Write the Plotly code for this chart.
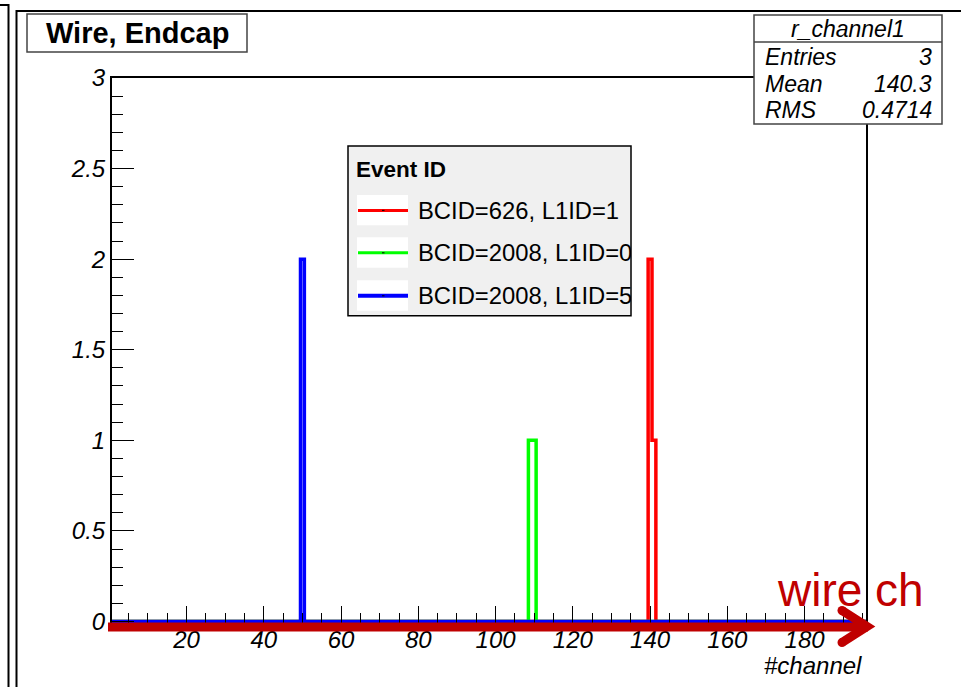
import numpy as np
import plotly.graph_objects as go

# ---------------- data ----------------
series_names = ["BCID=626, L1ID=1", "BCID=2008, L1ID=0", "BCID=2008, L1ID=5"]
series_colors = ["#ff0000", "#00ff00", "#0000ff"]
red_channels = [140, 141]
red_counts = [2, 1]
green_channels = [109, 110]
green_counts = [1, 1]
blue_channels = [50]
blue_counts = [2]

n_channels = 196
x_ticks = [20, 40, 60, 80, 100, 120, 140, 160, 180]
title_text = "Wire, Endcap"
stats_name = "r_channel1"
stats_labels = ["Entries", "Mean", "RMS"]
stats_values = ["3", "140.3", "0.4714"]
legend_title = "Event ID"
x_title = "#channel"
arrow_label = "wire ch"

# ---------------- geometry ----------------
W, H = 961, 687
L, R, T, B = 112, 866, 78, 623.5
FONT = "Liberation Sans"
Y_MIN = -1.5 * 3 / (B - 1.5 - T)


def px(xp):
    return (xp - L) / (R - L)


def py(yp):
    return (B - yp) / (B - T)


def hist(chs, cnts):
    counts = np.zeros(n_channels)
    for c, v in zip(chs, cnts):
        counts[c - 1] = v
    edges = np.arange(n_channels + 1) + 0.5
    return edges, np.append(counts, counts[-1])


fig = go.Figure()
for chs, cnts, col, name in [
    (red_channels, red_counts, series_colors[0], series_names[0]),
    (green_channels, green_counts, series_colors[1], series_names[1]),
    (blue_channels, blue_counts, series_colors[2], series_names[2]),
]:
    ex, ey = hist(chs, cnts)
    fig.add_trace(go.Scatter(x=ex, y=ey, mode="lines", line_shape="hv",
                             line=dict(color=col, width=3.5), name=name,
                             showlegend=False, hoverinfo="skip"))

shapes = []
annotations = []

# canvas / pad frame lines
shapes.append(dict(type="path", xref="paper", yref="paper",
                   path=f"M {px(0)},{py(5)} L {px(8.5)},{py(5)} L {px(8.5)},{py(700)}",
                   line=dict(color="black", width=2)))
shapes.append(dict(type="path", xref="paper", yref="paper",
                   path=f"M {px(16.5)},{py(700)} L {px(16.5)},{py(11)} L {px(970)},{py(11)}",
                   line=dict(color="black", width=2)))

# title box
shapes.append(dict(type="rect", xref="paper", yref="paper",
                   x0=px(27), x1=px(247), y0=py(14), y1=py(52),
                   line=dict(color="#444", width=1.5), fillcolor="white", layer="above"))
annotations.append(dict(xref="paper", yref="paper", x=px(137), y=py(33),
                        text=f"<b>{title_text}</b>", showarrow=False,
                        xanchor="center", yanchor="middle",
                        font=dict(family=FONT, size=29, color="black")))

# stats box
shapes.append(dict(type="rect", xref="paper", yref="paper",
                   x0=px(754), x1=px(942), y0=py(15), y1=py(124),
                   line=dict(color="#444", width=1.5), fillcolor="white", layer="above"))
shapes.append(dict(type="line", xref="paper", yref="paper",
                   x0=px(754), x1=px(942), y0=py(42), y1=py(42),
                   line=dict(color="#444", width=1.5), layer="above"))
annotations.append(dict(xref="paper", yref="paper", x=px(848), y=py(28.5),
                        text=stats_name, showarrow=False, xanchor="center", yanchor="middle",
                        font=dict(family=FONT, size=23, color="black", style="italic")))
for i, (lab, val) in enumerate(zip(stats_labels, stats_values)):
    yc = [57, 84, 110][i]
    annotations.append(dict(xref="paper", yref="paper", x=px(763), y=py(yc),
                            text=lab, showarrow=False, xanchor="left", yanchor="middle",
                            font=dict(family=FONT, size=23, color="black", style="italic")))
    annotations.append(dict(xref="paper", yref="paper", x=px(934), y=py(yc),
                            text=val, showarrow=False, xanchor="right", yanchor="middle",
                            font=dict(family=FONT, size=23, color="black", style="italic")))

# legend box
shapes.append(dict(type="rect", xref="paper", yref="paper",
                   x0=px(348), x1=px(631), y0=py(146), y1=py(316),
                   line=dict(color="black", width=1.5), fillcolor="#f0f0f0", layer="above"))
annotations.append(dict(xref="paper", yref="paper", x=px(354), y=py(170),
                        text=f"<b>{legend_title}</b>", showarrow=False,
                        xanchor="left", yanchor="middle",
                        font=dict(family=FONT, size=22.5, color="black")))
row_y = [210.5, 253, 296]
for i, (name, col) in enumerate(zip(series_names, series_colors)):
    yc = row_y[i]
    shapes.append(dict(type="rect", xref="paper", yref="paper",
                       x0=px(357), x1=px(408), y0=py(yc - 15.5), y1=py(yc + 15),
                       line=dict(width=0), fillcolor="white", layer="above"))
    shapes.append(dict(type="line", xref="paper", yref="paper",
                       x0=px(358), x1=px(408), y0=py(yc), y1=py(yc),
                       line=dict(color=col, width=3 if i < 2 else 4), layer="above"))
    shapes.append(dict(type="line", xref="paper", yref="paper",
                       x0=px(382), x1=px(384.5), y0=py(yc), y1=py(yc),
                       line=dict(color="black", width=1), layer="above"))
    annotations.append(dict(xref="paper", yref="paper", x=px(417), y=py(yc),
                            text=name, showarrow=False, xanchor="left", yanchor="middle",
                            width=213, align="left", borderpad=0,
                            font=dict(family=FONT, size=23.8, color="black")))

# x-axis title
annotations.append(dict(xref="paper", yref="paper", x=px(864), y=py(666),
                        text=x_title, showarrow=False, xanchor="right", yanchor="middle",
                        font=dict(family=FONT, size=24, color="black", style="italic")))

# red arrow along the axis
ARROW = "#c00000"
shapes.append(dict(type="line", xref="paper", yref="paper",
                   x0=px(108), x1=px(868), y0=py(627.5), y1=py(627.5),
                   line=dict(color=ARROW, width=9), layer="above"))
shapes.append(dict(type="path", xref="paper", yref="paper",
                   path=f"M {px(842)},{py(611)} L {px(867)},{py(627)} L {px(842)},{py(643)}",
                   line=dict(color=ARROW, width=9), layer="above"))
for yy in (611, 643):
    shapes.append(dict(type="circle", xref="paper", yref="paper",
                       x0=px(842 - 4.5), x1=px(842 + 4.5), y0=py(yy - 4.5), y1=py(yy + 4.5),
                       line=dict(width=0), fillcolor=ARROW, layer="above"))
annotations.append(dict(xref="paper", yref="paper", x=px(850), y=py(590),
                        text=arrow_label, showarrow=False, xanchor="center", yanchor="middle",
                        font=dict(family=FONT, size=46, color=ARROW)))

fig.update_layout(
    width=W, height=H,
    margin=dict(l=L, r=W - R, t=T, b=H - B, pad=0),
    paper_bgcolor="white", plot_bgcolor="white",
    shapes=shapes, annotations=annotations,
    showlegend=False,
    xaxis=dict(range=[0.7, 195.9], showgrid=False, zeroline=False,
               showline=True, mirror=True, linecolor="black", linewidth=2,
               ticks="inside", ticklen=17, tickcolor="black", tickwidth=1,
               tickmode="array", tickvals=x_ticks, ticktext=[str(v) for v in x_ticks],
               ticklabelstandoff=-6,
               minor=dict(dtick=5, tick0=0, ticks="inside", ticklen=10,
                          tickcolor="black", tickwidth=1, showgrid=False),
               tickfont=dict(family=FONT, size=24, color="black", style="italic")),
    yaxis=dict(range=[Y_MIN, 3], showgrid=False, zeroline=False,
               showline=True, mirror=True, linecolor="black", linewidth=2,
               ticks="inside", ticklen=22, tickcolor="black", tickwidth=1,
               dtick=0.5, tick0=0,
               minor=dict(dtick=0.1, tick0=0, ticks="inside", ticklen=11,
                          tickcolor="black", tickwidth=1, showgrid=False),
               tickfont=dict(family=FONT, size=24, color="black", style="italic")),
)

fig.write_html("out.html", config={"displayModeBar": False},
               post_script="document.body.style.margin='0px';")
